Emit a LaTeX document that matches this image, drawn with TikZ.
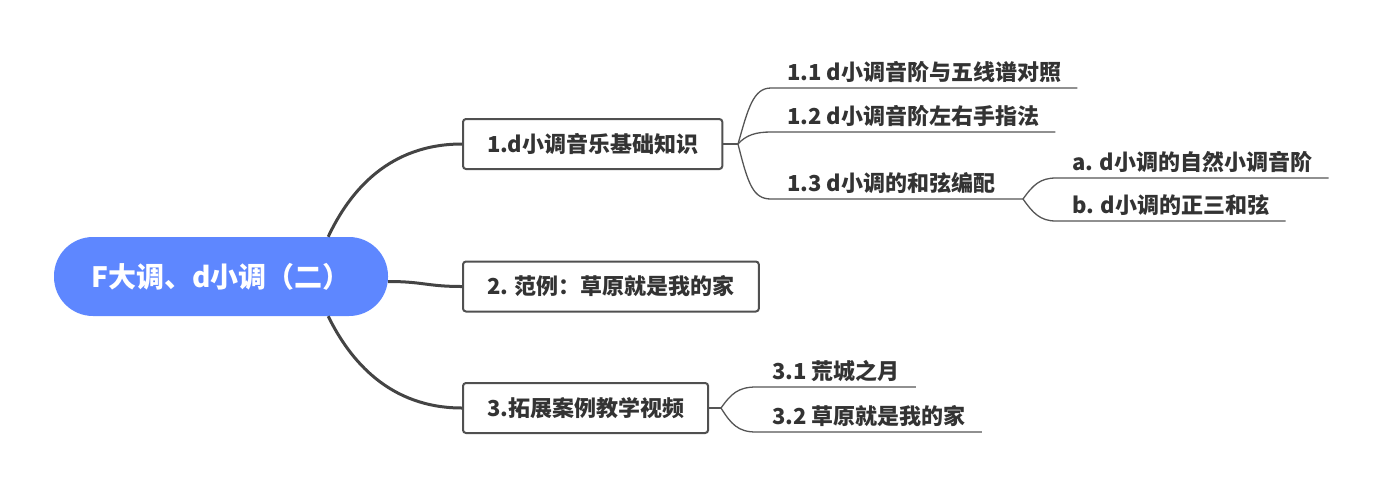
\documentclass[tikz,border=0pt]{standalone}
\usepackage{fontspec}
\newfontfamily\cjk{Noto Sans CJK SC}
\definecolor{rootblue}{RGB}{94,135,255}
\definecolor{linegray}{RGB}{68,68,68}
\definecolor{boxgray}{RGB}{80,80,80}
\definecolor{twiggray}{RGB}{85,85,85}
\definecolor{textgray}{RGB}{51,51,51}
\begin{document}
\begin{tikzpicture}[x=1pt,y=-1pt,
  rootnode/.style={rounded corners=39pt, fill=rootblue, text=white,
    font=\cjk\bfseries\fontsize{28}{32}\selectfont,
    minimum width=334pt, minimum height=79pt, inner sep=0pt},
  box/.style={draw=boxgray, line width=2pt, rounded corners=3pt, fill=white,
    text=textgray, font=\cjk\bfseries\fontsize{22}{26}\selectfont,
    minimum height=50pt, inner xsep=24pt, anchor=west},
  sub/.style={text=textgray, font=\cjk\bfseries\fontsize{22}{26}\selectfont,
    inner xsep=16pt, inner ysep=3pt, text height=16pt, text depth=4pt,
    anchor=south west},
  mainline/.style={draw=linegray, line width=3pt},
  twig/.style={draw=twiggray, line width=1.3pt}
]
\useasboundingbox (0,0) rectangle (1386,499);

\node[rootnode] (root) at (221,276.5) {F大调、d小调（二）};

\node[box] (b1) at (462,144) {1.d小调音乐基础知识};
\node[box] (b2) at (462,286.5) {2. 范例：草原就是我的家};
\node[box] (b3) at (462,408) {3.拓展案例教学视频};

\coordinate (j1) at (738,144);
\coordinate (j13) at (1023,199);
\coordinate (j3) at (721,408);

\node[sub] (t11) at (771,88) {1.1 d小调音阶与五线谱对照};
\node[sub] (t12) at (771,132) {1.2 d小调音阶左右手指法};
\node[sub] (t13) at (771,199) {1.3 d小调的和弦编配};
\node[sub] (ta) at (1056,178) {a. d小调的自然小调音阶};
\node[sub] (tb) at (1056,221) {b. d小调的正三和弦};
\node[sub] (t31) at (756,387) {3.1 荒城之月};
\node[sub] (t32) at (756,432) {3.2 草原就是我的家};

\draw[mainline] ([xshift=-60pt]root.north east) .. controls +(22,-47) and +(-72,0) .. (b1.west);
\draw[mainline] ([yshift=-5pt]root.east) .. controls +(35,0) and +(-35,0) .. (b2.west);
\draw[mainline] ([xshift=-60pt]root.south east) .. controls +(22,45) and +(-72,0) .. (b3.west);

\draw[twig] (b1.east) -- (j1);
\draw[twig] (j1) .. controls +(10,-35) and +(-18,0) .. (t11.south west) -- (t11.south east);
\draw[twig] (j1) .. controls +(8,-9) and +(-15,0) .. (t12.south west) -- (t12.south east);
\draw[twig] (j1) .. controls +(10,40) and +(-18,0) .. (t13.south west) -- (j13);
\draw[twig] (j13) .. controls +(10,-14) and +(-16,0) .. (ta.south west) -- (ta.south east);
\draw[twig] (j13) .. controls +(10,14) and +(-16,0) .. (tb.south west) -- (tb.south east);
\draw[twig] (b3.east) -- (j3);
\draw[twig] (j3) .. controls +(10,-14) and +(-18,0) .. (t31.south west) -- (t31.south east);
\draw[twig] (j3) .. controls +(10,16) and +(-18,0) .. (t32.south west) -- (t32.south east);
\end{tikzpicture}
\end{document}
